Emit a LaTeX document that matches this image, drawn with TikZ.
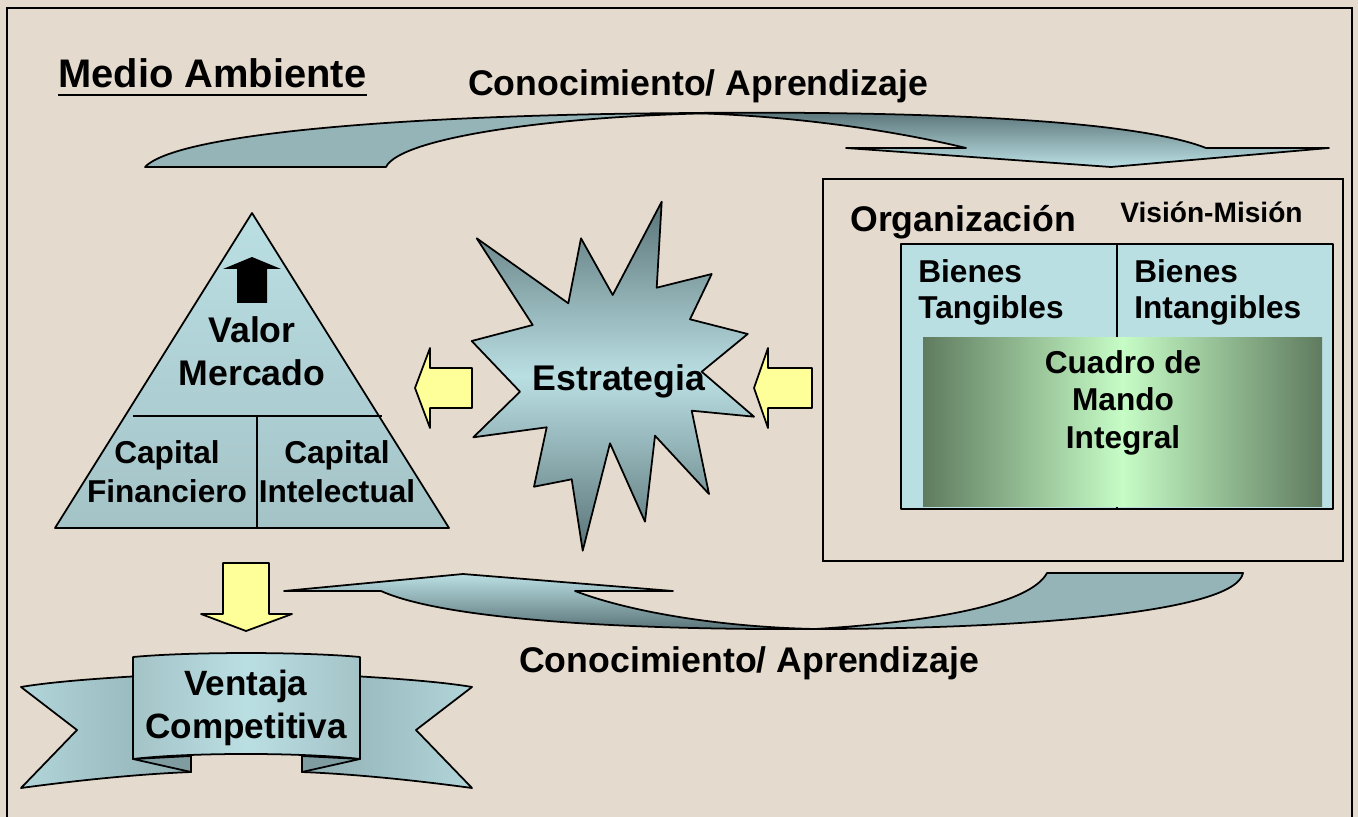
\documentclass[tikz,border=0pt]{standalone}
\usepackage{fontspec}
\setmainfont{Liberation Sans}
\usetikzlibrary{positioning}
\definecolor{paper}{HTML}{E4DBCE}
\definecolor{tealflat}{HTML}{95B4B8}
\definecolor{tealpale}{HTML}{BADFE3}
\definecolor{tealdark}{HTML}{5A7478}
\definecolor{tealmid}{HTML}{A4C3C7}
\definecolor{tealwing}{HTML}{8FAEB2}
\definecolor{tealfold}{HTML}{7F9DA1}
\definecolor{arrowyel}{HTML}{FFFF99}
\definecolor{greendark}{HTML}{5F7B5F}
\definecolor{greenpale}{HTML}{C6FCC6}

\begin{document}
\begin{tikzpicture}[x=0.02cm,y=-0.02cm,
    txt/.style={inner sep=0pt, anchor=base, align=center, font=\bfseries\fontsize{20.3}{24}\selectfont},
    small/.style={txt, font=\bfseries\fontsize{18}{21}\selectfont},
    outline/.style={draw=black, line width=1pt, line join=round},
    yelarrow/.style={outline, fill=arrowyel}]
    % background and frame
    \fill[paper] (0,0) rectangle (1358,817);
    \useasboundingbox (0,0) rectangle (1358,817);
    \draw[line width=1pt] (7,8) rectangle (1352,840);

    \node[txt, anchor=base west, font=\bfseries\fontsize{22.7}{26}\selectfont] (medio) at (58,88) {Medio Ambiente};
    \draw[line width=1.2pt] ([yshift=-4pt]medio.base west) -- ([yshift=-4pt]medio.base east);

    % upper curved arrow
    \shade[outline, top color=tealdark, bottom color=tealpale] (690,113) .. controls (900,111) and (1130,118) .. (1206,148) -- (1329,148) -- (1111,167) -- (846,148) -- (966,148) .. controls (900,132) and (800,116) .. (690,113) -- cycle;
    \path[outline, fill=tealflat] (145,167) -- (386,167) .. controls (400,138) and (550,116) .. (720,113) .. controls (450,113) and (180,130) .. (145,167) -- cycle;
    \node[txt] (conoTop) at (698,96) {Conocimiento/ Aprendizaje};

    % pyramid
    \shade[outline, top color=tealpale, bottom color=tealmid] (252,213) -- (449,528) -- (55,528) -- cycle;
    \draw[line width=1pt] (133,416) -- (382,416);
    \draw[line width=1pt] (257,416) -- (257,528);
    \fill (252,257) -- (281,269) -- (267,269) -- (267,303) -- (237,303) -- (237,269) -- (223,269) -- cycle;
    \node[txt] (valor) at (252,385) {Valor\\Mercado};
    \node[small, font=\bfseries\fontsize{18}{22}\selectfont] (capFin) at (167,502) {Capital\\Financiero};
    \node[small, font=\bfseries\fontsize{18}{22}\selectfont] (capInt) at (337,502) {Capital\\Intelectual};

    % strategy star
    \shade[outline, top color=tealdark, bottom color=tealdark, middle color=tealpale]
        (661.7,201.7) -- (656.7,287.7) -- (711.7,274) -- (690,319.3) -- (747.7,334) -- (701.7,371.7)
        -- (754,416.7) -- (691.7,410.7) -- (709,494) -- (655,435.7) -- (645,521.7) -- (610,443.3)
        -- (582.7,550.7) -- (571.7,479.3) -- (534,486.7) -- (546.7,427.3) -- (473.3,437.3) -- (520,391.7)
        -- (471.7,341) -- (532.7,325) -- (476.7,238.3) -- (568.3,303.3) -- (581,238.3) -- (612.7,295) -- cycle;
    \node[txt] (estr) at (619,390) {Estrategia};

    % yellow arrows
    \path[yelarrow] (415,388) -- (430,348) -- (430,368) -- (472,368) -- (472,408) -- (430,408) -- (430,428) -- cycle;
    \path[yelarrow] (754,388) -- (768,348) -- (768,368) -- (812,368) -- (812,408) -- (768,408) -- (768,428) -- cycle;
    \path[yelarrow] (223,563) -- (269,563) -- (269,614) -- (292,614) -- (246,631) -- (201,614) -- (223,614) -- cycle;

    % organization box
    \draw[line width=1pt] (823,179) rectangle (1343,561);
    \path[outline, fill=tealpale] (901,244) rectangle (1333,509);
    \draw[line width=1pt] (1117,244) -- (1117,509);
    \shade[left color=greendark, right color=greendark, middle color=greenpale] (923,337) rectangle (1322,506);
    \node[txt, anchor=base west] (org) at (850,232) {Organización};
    \node[txt, anchor=base west, font=\bfseries\fontsize{16}{19}\selectfont] (vision) at (1120,223) {Visión-Misión};
    \node[small, anchor=base west, align=left, font=\bfseries\fontsize{18}{20.4}\selectfont] (tang) at (918,318) {Bienes\\Tangibles};
    \node[small, anchor=base west, align=left, font=\bfseries\fontsize{18}{20.4}\selectfont] (intang) at (1134,318) {Bienes\\Intangibles};
    \node[small, font=\bfseries\fontsize{18}{21.3}\selectfont] (cmi) at (1123,448) {Cuadro de\\Mando\\Integral};

    % lower curved arrow
    \path[outline, fill=tealflat] (1047,573) -- (1243,573) .. controls (1235,615) and (1000,629) .. (815,629) .. controls (930,622) and (1030,605) .. (1047,573) -- cycle;
    \shade[outline, top color=tealpale, bottom color=tealdark] (815,629) .. controls (650,630) and (450,622) .. (381,591) -- (284,591) -- (463,574) -- (673,591) -- (575,591) .. controls (630,612) and (720,627) .. (815,629) -- cycle;
    \node[txt] (conoBot) at (749,672) {Conocimiento/ Aprendizaje};

    % ribbon
    \shade[outline, left color=tealpale!80!tealwing, right color=tealwing] (160,675) .. controls (100,678) and (50,682) .. (21,687) -- (77,730) -- (21,788) .. controls (80,780) and (140,774) .. (191,772) -- (191,757) -- (160,757) -- cycle;
    \shade[outline, right color=tealpale!80!tealwing, left color=tealwing] (333,675) .. controls (393,678) and (443,682) .. (472,687) -- (416,730) -- (472,788) .. controls (413,780) and (353,774) .. (302,772) -- (302,757) -- (333,757) -- cycle;
    \path[outline, fill=tealfold] (133,759) -- (191,772) -- (191,756) -- cycle;
    \path[outline, fill=tealfold] (360,759) -- (302,772) -- (302,756) -- cycle;
    \shade[outline, left color=tealmid, right color=tealmid, middle color=tealpale] (133,657) .. controls (190,651.7) and (302,651.7) .. (360,657) -- (360,759) .. controls (302,752.3) and (190,752.3) .. (133,759) -- cycle;
    \node[txt, font=\bfseries\fontsize{20}{24.4}\selectfont] (ventaja) at (246,738) {Ventaja\\Competitiva};
\end{tikzpicture}
\end{document}
